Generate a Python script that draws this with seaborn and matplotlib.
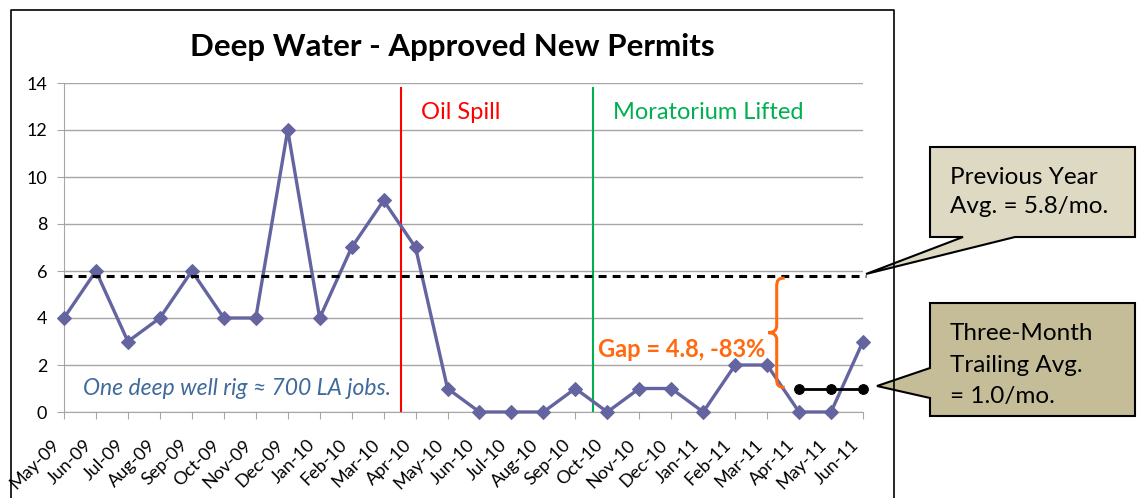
import matplotlib
matplotlib.use("Agg")
import matplotlib.pyplot as plt
import seaborn as sns
import pandas as pd
from matplotlib.path import Path
from matplotlib.patches import PathPatch, Polygon
from matplotlib.lines import Line2D
from matplotlib.transforms import ScaledTranslation

months = ["May-09", "Jun-09", "Jul-09", "Aug-09", "Sep-09", "Oct-09", "Nov-09",
          "Dec-09", "Jan-10", "Feb-10", "Mar-10", "Apr-10", "May-10", "Jun-10",
          "Jul-10", "Aug-10", "Sep-10", "Oct-10", "Nov-10", "Dec-10", "Jan-11",
          "Feb-11", "Mar-11", "Apr-11", "May-11", "Jun-11"]
permits = [4, 6, 3, 4, 6, 4, 4, 12, 4, 7, 9, 7, 1, 0, 0, 0, 1, 0, 1, 1, 0, 2, 2, 0, 0, 3]

prev_year_avg = 5.8
trailing_idx = [23, 24, 25]
trailing_avg = [1.0, 1.0, 1.0]

event_names = ["Oil Spill", "Moratorium Lifted"]
event_pos = [10.55, 16.55]
event_colors = ["#FF0000", "#00B050"]

W, H = 1139, 498

sns.set_style("white")
plt.rcParams["font.family"] = ["Lato", "DejaVu Sans"]
plt.rcParams["text.color"] = "black"
plt.rcParams["xtick.color"] = "black"
plt.rcParams["ytick.color"] = "black"

fig = plt.figure(figsize=(W / 100, H / 100), dpi=100)
ax = fig.add_axes([64 / W, 86 / H, 799 / W, 329 / H])

df = pd.DataFrame({"idx": range(len(months)), "permits": permits})

line_col = "#6464A0"
sns.lineplot(data=df, x="idx", y="permits", ax=ax, color=line_col, linewidth=2.4,
             marker="D", markersize=7, markeredgecolor=line_col, zorder=3, clip_on=False)

# previous year average (dashed) and trailing average
ax.plot([0, 25.1], [prev_year_avg, prev_year_avg], color="black", lw=2.2,
        linestyle=(0, (2.6, 2.0)), zorder=4, clip_on=False)
sns.lineplot(x=trailing_idx, y=trailing_avg, ax=ax, color="black", lw=2,
             marker="o", markersize=7, markeredgecolor="black", zorder=4, clip_on=False)

# event lines
for name, pos, col in zip(event_names, event_pos, event_colors):
    ax.vlines(pos, 0, 13.85, color=col, lw=1.5, zorder=2)
    ax.text(pos + 0.62, 12.75, name, color=col, fontsize=17, va="center", ha="left")

ax.text(0.6, 1.0, "One deep well rig \u2248 700 LA jobs.", color="#3F6A9C",
        fontsize=16.5, style="italic", va="center", ha="left")

ax.text(21.95, 2.64, "Gap = 4.8, -83%", color="#FF6A10", fontsize=17,
        fontweight="bold", va="center", ha="right")

# curly brace
bx, hx, tx = 22.3, 22.55, 22.03
yt, yb = 5.7, 1.05
ym = (yt + yb) / 2
verts = [(hx, yt), (bx + 0.05, yt), (bx, yt - 0.1), (bx, yt - 0.35),
         (bx, ym + 0.3),
         (bx, ym + 0.1), (bx - 0.1, ym), (tx, ym),
         (bx - 0.1, ym), (bx, ym - 0.1), (bx, ym - 0.3),
         (bx, yb + 0.35),
         (bx, yb + 0.1), (bx + 0.05, yb), (hx, yb)]
codes = [Path.MOVETO, Path.CURVE4, Path.CURVE4, Path.CURVE4, Path.LINETO,
         Path.CURVE4, Path.CURVE4, Path.CURVE4, Path.CURVE4, Path.CURVE4, Path.CURVE4,
         Path.LINETO, Path.CURVE4, Path.CURVE4, Path.CURVE4]
ax.add_patch(PathPatch(Path(verts, codes), facecolor="none", edgecolor="#FF6A10",
                       lw=2.2, zorder=5))

ax.set_xlim(0, 25)
ax.set_ylim(0, 14)
ax.set_yticks(range(0, 15, 2))
ax.set_xticks(range(len(months)))
ax.set_xticklabels(months, rotation=45, ha="right", va="center", rotation_mode="anchor")
ax.set_xlabel("")
ax.set_ylabel("")
ax.yaxis.grid(True, color="#A6A6A6", lw=1)
ax.set_axisbelow(True)
for s in ["top", "right"]:
    ax.spines[s].set_visible(False)
for s in ["left", "bottom"]:
    ax.spines[s].set_color("#A6A6A6")
ax.tick_params(axis="both", bottom=True, left=True, direction="out", length=5,
               color="#A6A6A6", labelsize=13)
ax.tick_params(axis="x", pad=17)
ax.tick_params(axis="y", pad=7)
for lbl in ax.get_xticklabels():
    lbl.set_transform(lbl.get_transform() + ScaledTranslation(-0.07, 0, fig.dpi_scale_trans))

fig.text(452 / W, 1 - 47 / H, "Deep Water - Approved New Permits", ha="center",
         va="center", fontsize=22.5, fontweight="bold")

# chart border
def px(x, y):
    return (x / W, 1 - y / H)

bx_pts = [px(10.5, 520), px(10.5, 10), px(894, 10), px(894, 520)]
fig.add_artist(Line2D([p[0] for p in bx_pts], [p[1] for p in bx_pts],
                      transform=fig.transFigure, color="black", lw=1.2))

# callouts
c1 = [px(930, 147), px(1135, 147), px(1135, 237), px(1015, 237), px(866, 274),
      px(963, 237), px(930, 237)]
c2 = [px(930, 303), px(1135, 303), px(1135, 416), px(930, 416), px(930, 398),
      px(877, 386), px(930, 368)]
for pts, fc in [(c1, "#DDD9C3"), (c2, "#C4BD97")]:
    fig.add_artist(Polygon(pts, closed=True, facecolor=fc, edgecolor="black", lw=1.5,
                           transform=fig.transFigure))

fig.text(950 / W, 1 - 192 / H, "Previous Year\nAvg. = 5.8/mo.", fontsize=17.5,
         va="center", ha="left", linespacing=1.5)
fig.text(950 / W, 1 - 365 / H, "Three-Month\nTrailing Avg.\n= 1.0/mo.", fontsize=17.5,
         va="center", ha="left", linespacing=1.6)

fig.savefig("out.png", dpi=100)
